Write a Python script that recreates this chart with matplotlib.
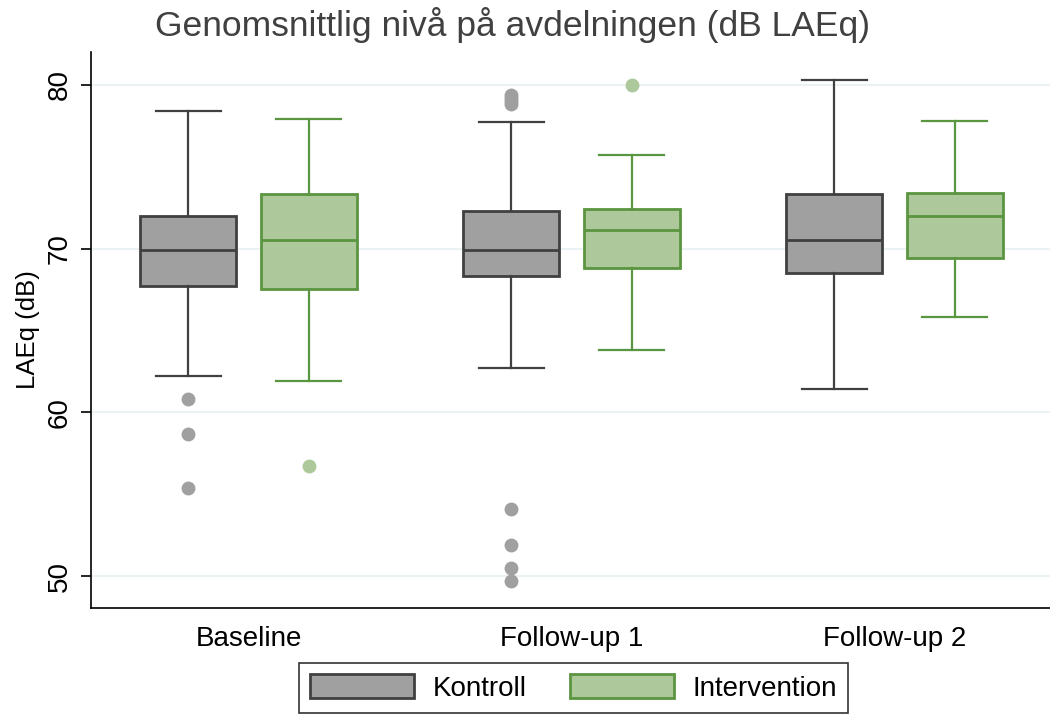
import matplotlib.pyplot as plt
from matplotlib.patches import Patch

plt.rcParams['font.family'] = ['Liberation Sans', 'DejaVu Sans']

# Box statistics per period (dB LAEq)
periods = ['Baseline', 'Follow-up 1', 'Follow-up 2']

kontroll_low = [62.2, 62.7, 61.4]
kontroll_q1 = [67.7, 68.3, 68.5]
kontroll_med = [69.9, 69.9, 70.5]
kontroll_q3 = [72.0, 72.3, 73.3]
kontroll_high = [78.4, 77.7, 80.3]
kontroll_fliers = [[60.8, 58.7, 55.4],
                   [79.4, 79.2, 79.0, 78.8, 54.1, 51.9, 50.5, 49.7],
                   []]

interv_low = [61.9, 63.8, 65.8]
interv_q1 = [67.5, 68.8, 69.4]
interv_med = [70.5, 71.1, 72.0]
interv_q3 = [73.3, 72.4, 73.4]
interv_high = [77.9, 75.7, 77.8]
interv_fliers = [[56.7], [80.0], []]

gray_fill, gray_edge = '#a0a0a0', '#404040'
green_fill, green_edge = '#adc99c', '#5a9540'


def make_stats(low, q1, med, q3, high, fliers):
    return [dict(whislo=a, q1=b, med=c, q3=d, whishi=e, fliers=f)
            for a, b, c, d, e, f in zip(low, q1, med, q3, high, fliers)]


fig = plt.figure(figsize=(10.5, 7.14), dpi=100)
ax = fig.add_axes([0.0867, 0.1485, 0.9133, 0.7787])

centers = list(range(len(periods)))
offset = 0.186
width = 0.297

for stats, shift, fill, edge in [
        (make_stats(kontroll_low, kontroll_q1, kontroll_med, kontroll_q3,
                    kontroll_high, kontroll_fliers), -offset, gray_fill, gray_edge),
        (make_stats(interv_low, interv_q1, interv_med, interv_q3,
                    interv_high, interv_fliers), offset, green_fill, green_edge)]:
    ax.bxp(stats, positions=[c + shift for c in centers], widths=width,
           capwidths=0.2, patch_artist=True, manage_ticks=False,
           boxprops=dict(facecolor=fill, edgecolor=edge, linewidth=2.0),
           medianprops=dict(color=edge, linewidth=2.0),
           whiskerprops=dict(color=edge, linewidth=1.6),
           capprops=dict(color=edge, linewidth=1.6),
           flierprops=dict(marker='o', markersize=10, markerfacecolor=fill,
                           markeredgecolor='none'),
           zorder=3)

ax.set_xlim(-0.4876, 2.4814)
ax.set_ylim(48.05, 82.0)
ax.set_yticks([50, 60, 70, 80])
ax.set_xticks(centers)
ax.set_xticklabels(periods, fontsize=20)
ax.tick_params(axis='x', length=0, pad=13)
ax.tick_params(axis='y', length=7, width=1.2, pad=6, labelsize=20)
for lab in ax.get_yticklabels():
    lab.set_rotation(90)
    lab.set_va('center')

ax.grid(axis='y', color='#eaf2f3', linewidth=1.5, zorder=0)
ax.set_axisbelow(True)
for side in ['top', 'right']:
    ax.spines[side].set_visible(False)
for side in ['left', 'bottom']:
    ax.spines[side].set_linewidth(1.2)

ax.set_ylabel('LAEq (dB)', fontsize=18.5, labelpad=5)

fig.text(0.488, 0.950, 'Genomsnittlig nivå på avdelningen (dB LAEq)',
         ha='center', va='baseline', fontsize=25.5, color='#404040')

handles = [Patch(facecolor=gray_fill, edgecolor=gray_edge, linewidth=2.0, label='Kontroll'),
           Patch(facecolor=green_fill, edgecolor=green_edge, linewidth=2.0, label='Intervention')]
leg = fig.legend(handles=handles, loc='lower center', bbox_to_anchor=(0.5462, 0.0),
                 ncol=2, fontsize=20, frameon=True, fancybox=False,
                 handlelength=3.74, handleheight=0.94, handletextpad=0.68,
                 columnspacing=1.55, borderpad=0.4, borderaxespad=0.05)
leg.get_frame().set_edgecolor('black')
leg.get_frame().set_linewidth(1.2)

fig.savefig('out.png', dpi=100)
